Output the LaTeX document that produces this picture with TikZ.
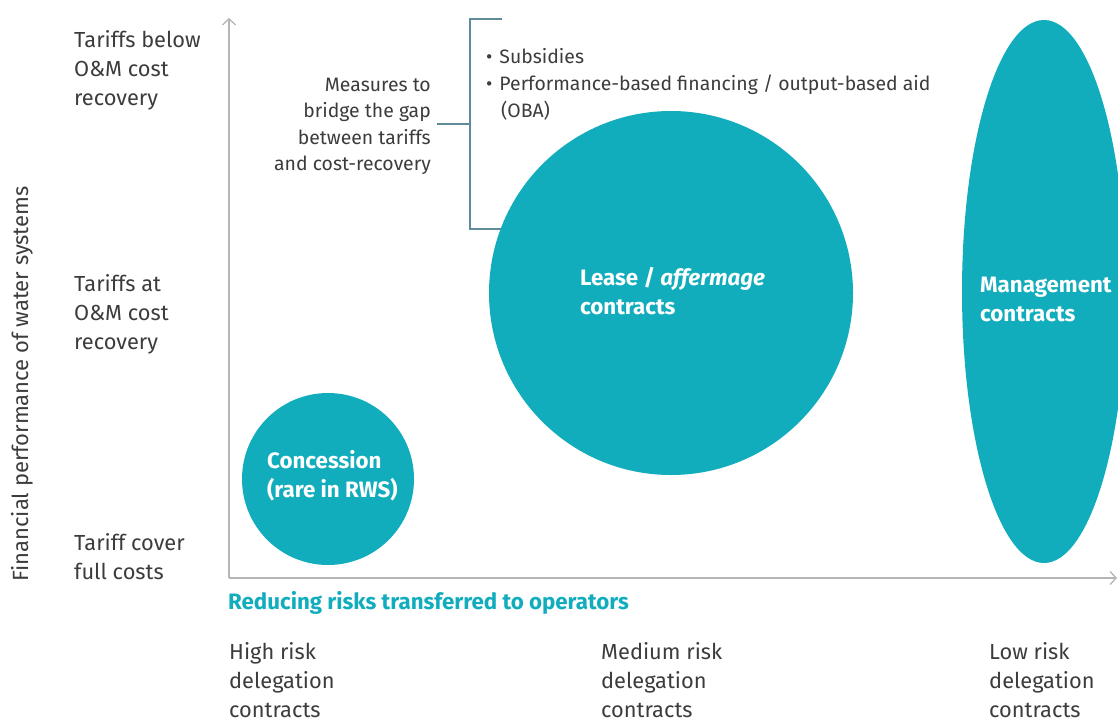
\documentclass[tikz,border=0pt]{standalone}
\usepackage{fontspec}
\setmainfont{Fira Sans}
\usetikzlibrary{arrows.meta}
\definecolor{bubble}{HTML}{12ADBD}
\definecolor{labtxt}{HTML}{3C3C3C}
\definecolor{axisgray}{HTML}{B5B5B5}
\definecolor{brack}{HTML}{5F8B9B}
\tikzset{
  lab/.style={anchor=west, align=left, text=labtxt, inner sep=0pt, font=\fontsize{21.8}{29}\selectfont},
  rlab/.style={anchor=east, align=right, text=labtxt, inner sep=0pt, font=\fontsize{19.4}{26.5}\selectfont},
  inlab/.style={anchor=west, align=left, text=white, inner sep=0pt, font=\fontsize{22.3}{29}\selectfont\bfseries},
  bub/.style={fill=bubble, draw=none},
  axis/.style={draw=axisgray, line width=1.3pt, -{Straight Barb[length=6pt,width=13pt,line width=1.3pt]}},
  brk/.style={draw=brack, line width=1.3pt}
}
\begin{document}
\begin{tikzpicture}[x=1pt,y=-1pt]
\useasboundingbox (0,0) rectangle (1118,720);
\clip (0,0) rectangle (1118,720);
% bubbles
\fill[bub] (328,479) circle [radius=86];
\fill[bub] (671,293) circle [radius=182];
\fill[bub] (1044,291.5) ellipse [x radius=82, y radius=271.5];
% axes
\coordinate (O) at (229,578);
\coordinate (Ytop) at (229,18);
\coordinate (Xend) at (1117,578);
\draw[axis] (O) -- (Ytop);
\draw[axis] (O) -- (Xend);
% bracket
\coordinate (bt) at (470,19);
\coordinate (bb) at (470,229);
\coordinate (btr) at (502,19);
\coordinate (bbr) at (501,229);
\coordinate (bm) at (470,124);
\coordinate (bl) at (437,124);
\draw[brk] (btr) -- (bt) -- (bb) -- (bbr);
\draw[brk] (bl) -- (bm);
% y labels
\node[lab] (y1) at (74,70) {Tariffs below\\O\&M cost\\recovery};
\node[lab] (y2) at (74,314) {Tariffs at\\O\&M cost\\recovery};
\node[lab] (y3) at (74,557) {Tariff cover\\full costs};
\node[text=labtxt, rotate=90, inner sep=0pt, font=\fontsize{22}{24}\selectfont] (ytitle) at (22,384) {Financial performance of water systems};
% measures
\node[rlab] (meas) at (431,126.5) {Measures to\\bridge the gap\\between tariffs\\and cost-recovery};
\node[anchor=west, align=left, text=labtxt, inner sep=0pt, font=\fontsize{19.4}{27}\selectfont] (bul) at (486,84)
  {\textbullet\hspace{7pt}Subsidies\\\textbullet\hspace{7pt}Performance-based financing / output-based aid\\\hspace{15pt}(OBA)};
% inside labels
\node[inlab] (lease) at (580,291) {Lease / \textit{affermage}\\contracts};
\node[inlab] (conc) at (267,476) {Concession\\(rare in RWS)};
\node[inlab] (mgmt) at (980,299) {Management\\contracts};
% x axis title
\node[anchor=west, inner sep=0pt, text=bubble, font=\fontsize{22.3}{24}\selectfont\bfseries] (xtitle) at (228,603) {Reducing risks transferred to operators};
% x labels
\node[lab] (x1) at (229,680) {High risk\\delegation\\contracts};
\node[lab] (x2) at (601,680) {Medium risk\\delegation\\contracts};
\node[lab] (x3) at (989,680) {Low risk\\delegation\\contracts};
\end{tikzpicture}
\end{document}
